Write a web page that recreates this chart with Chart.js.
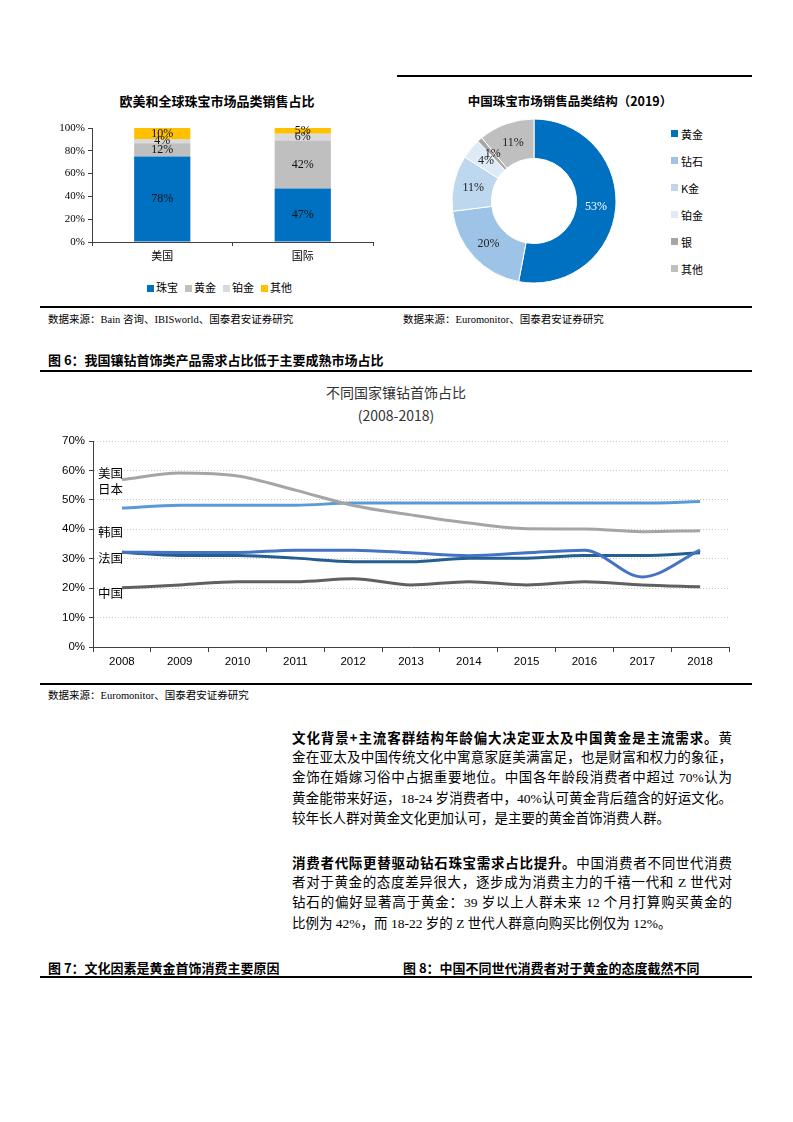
<!DOCTYPE html>
<html>
<head>
<meta charset="utf-8">
<script src="https://cdn.jsdelivr.net/npm/chart.js@4/dist/chart.umd.min.js"></script>
<style>
  body { margin: 0; background: #fff; }
  #page { position: relative; width: 793px; height: 1122px; font-family: "Noto Sans CJK SC", sans-serif; color: #000; }
  .abs { position: absolute; }
  .rule { position: absolute; background: #000; }
  .ctitle { position: absolute; font-weight: bold; font-size: 13px; text-align: center; white-space: nowrap; }
  .src { position: absolute; font-family: "Liberation Serif", "Noto Sans CJK SC", serif; font-size: 10.5px; white-space: nowrap; }
  .fig { position: absolute; font-weight: bold; font-size: 13px; white-space: nowrap; }
  .leg { position: absolute; font-size: 11px; display: flex; align-items: center; white-space: nowrap; }
  .leg i { display: inline-block; width: 7px; height: 7px; margin-right: 2px; }
  .ann { position: absolute; font-size: 12.5px; color: #000; white-space: nowrap; }
  .para { position: absolute; left: 292px; width: 440px; font-size: 13.5px; font-family: "Liberation Serif", "Noto Sans CJK SC", serif; }
  .para div { height: 20.6px; line-height: 20.6px; text-align: justify; text-align-last: justify; white-space: nowrap; }
  .para div.last { text-align-last: left; }
</style>
</head>
<body>
<div id="page">
  <div class="rule" style="left:397px; top:75px; width:355px; height:2px;"></div>

  <div class="ctitle" style="left:77px; top:91px; width:280px;">欧美和全球珠宝市场品类销售占比</div>
  <canvas id="barChart" class="abs" width="345" height="150" style="left:40px; top:118px;"></canvas>
  <div id="barLegend" class="leg" style="left:147px; top:279px;"></div>

  <div class="ctitle" style="left:440px; top:91px; width:260px; font-size:12.5px;">中国珠宝市场销售品类结构（2019）</div>
  <canvas id="pieChart" class="abs" width="190" height="190" style="left:439px; top:106px;"></canvas>
  <div id="pieLegend" class="abs" style="left:671px; top:120px;"></div>

  <div class="rule" style="left:40px; top:306px; width:712px; height:1.5px;"></div>
  <div class="src" style="left:48px; top:311px;">数据来源：Bain 咨询、IBISworld、国泰君安证券研究</div>
  <div class="src" style="left:403px; top:311px;">数据来源：Euromonitor、国泰君安证券研究</div>

  <div class="fig" style="left:48px; top:350px;">图 6：我国镶钻首饰类产品需求占比低于主要成熟市场占比</div>
  <div class="rule" style="left:40px; top:370px; width:712px; height:2px;"></div>

  <div class="abs" style="left:296px; top:381px; width:200px; text-align:center; font-size:14px; color:#333; line-height:23px;">不同国家镶钻首饰占比<br>(2008-2018)</div>
  <canvas id="lineChart" class="abs" width="700" height="245" style="left:40px; top:430px;"></canvas>
  <div class="ann" style="left:98px; top:463px;">美国</div>
  <div class="ann" style="left:98px; top:479px;">日本</div>
  <div class="ann" style="left:98px; top:522px;">韩国</div>
  <div class="ann" style="left:98px; top:548px;">法国</div>
  <div class="ann" style="left:98px; top:583px;">中国</div>

  <div class="rule" style="left:40px; top:683px; width:712px; height:2px;"></div>
  <div class="src" style="left:48px; top:687px;">数据来源：Euromonitor、国泰君安证券研究</div>

  <div class="para" style="top:727px;">
    <div><b style="font-family:'Noto Sans CJK SC';">文化背景+主流客群结构年龄偏大决定亚太及中国黄金是主流需求。</b>黄</div>
    <div>金在亚太及中国传统文化中寓意家庭美满富足，也是财富和权力的象征，</div>
    <div>金饰在婚嫁习俗中占据重要地位。中国各年龄段消费者中超过 70%认为</div>
    <div>黄金能带来好运，18-24 岁消费者中，40%认可黄金背后蕴含的好运文化。</div>
    <div class="last">较年长人群对黄金文化更加认可，是主要的黄金首饰消费人群。</div>
  </div>
  <div class="para" style="top:852px;">
    <div><b style="font-family:'Noto Sans CJK SC';">消费者代际更替驱动钻石珠宝需求占比提升。</b>中国消费者不同世代消费</div>
    <div>者对于黄金的态度差异很大，逐步成为消费主力的千禧一代和 Z 世代对</div>
    <div>钻石的偏好显著高于黄金：39 岁以上人群未来 12 个月打算购买黄金的</div>
    <div class="last">比例为 42%，而 18-22 岁的 Z 世代人群意向购买比例仅为 12%。</div>
  </div>

  <div class="fig" style="left:48px; top:958px;">图 7：文化因素是黄金首饰消费主要原因</div>
  <div class="fig" style="left:403px; top:958px;">图 8：中国不同世代消费者对于黄金的态度截然不同</div>
  <div class="rule" style="left:40px; top:976px; width:712px; height:2px;"></div>
</div>

<script>
// 欧美和全球珠宝市场品类销售占比
const barCategories = ["美国", "国际"];
const barSeriesNames = ["珠宝", "黄金", "铂金", "其他"];
const zhubao = [78, 47];
const huangjin = [12, 42];
const bojin = [4, 6];
const qita = [10, 5];
const barColors = ["#0070c0", "#bfbfbf", "#d9d9d9", "#ffc000"];
const barTicks = [0, 20, 40, 60, 80, 100];

// 中国珠宝市场销售品类结构（2019）
const pieLabels = ["黄金", "钻石", "K金", "铂金", "银", "其他"];
const pieValues = [53, 20, 11, 4, 1, 11];
const pieColors = ["#0070c0", "#9dc3e6", "#bdd7ee", "#deebf7", "#a6a6a6", "#bfbfbf"];

// 不同国家镶钻首饰占比 (2008-2018)
const years = ["2008", "2009", "2010", "2011", "2012", "2013", "2014", "2015", "2016", "2017", "2018"];
const japan = [56.9, 59.1, 58.1, 53.3, 48.1, 44.9, 42.1, 40.2, 40.1, 39.2, 39.5];
const usa = [47.2, 48.2, 48.2, 48.2, 48.9, 48.9, 48.9, 48.9, 48.9, 48.9, 49.4];
const korea = [32.2, 32.1, 32.1, 32.9, 32.9, 32.0, 31.0, 32.0, 32.9, 23.8, 32.9];
const france = [32.2, 31.1, 31.1, 30.2, 29.0, 29.0, 30.2, 30.2, 31.1, 31.1, 32.0];
const china = [20.1, 21.1, 22.2, 22.2, 23.2, 21.1, 22.2, 21.1, 22.2, 21.1, 20.5];
const lineTicks = [0, 10, 20, 30, 40, 50, 60, 70];

const serif = "'Liberation Serif', 'Noto Sans CJK SC', serif";
const sans = "'Liberation Sans', 'Noto Sans CJK SC', sans-serif";

// 100% 堆积：按类目合计换算
const barRaw = [zhubao, huangjin, bojin, qita];
const totals = barCategories.map((c, i) => barRaw.reduce((s, arr) => s + arr[i], 0));

const barLabelPlugin = {
	id: "barLabels",
	afterDatasetsDraw(chart) {
		const ctx = chart.ctx;
		ctx.save();
		ctx.font = "12px " + serif;
		ctx.fillStyle = "#111";
		ctx.textAlign = "center";
		ctx.textBaseline = "middle";
		chart.data.datasets.forEach((ds, di) => {
			chart.getDatasetMeta(di).data.forEach((el, i) => {
				ctx.fillText(ds.rawValues[i] + "%", el.x, (el.y + el.base) / 2);
			});
		});
		ctx.restore();
	}
};

new Chart(document.getElementById("barChart"), {
	type: "bar",
	data: {
		labels: barCategories,
		datasets: barSeriesNames.map((name, k) => ({
			label: name,
			data: barRaw[k].map((v, i) => v / totals[i] * 100),
			rawValues: barRaw[k],
			backgroundColor: barColors[k],
			barPercentage: 0.4,
			categoryPercentage: 1
		}))
	},
	options: {
		responsive: false,
		animation: false,
		layout: { padding: { top: 10, right: 12, left: 0, bottom: 0 } },
		plugins: { legend: { display: false }, tooltip: { enabled: false } },
		scales: {
			x: {
				stacked: true,
				afterFit: s => { s.height = 26; },
				grid: { drawOnChartArea: false, drawTicks: true, tickLength: 4, color: "#404040" },
				border: { color: "#404040" },
				ticks: { color: "#000", font: { size: 11, family: sans }, padding: 4 }
			},
			y: {
				stacked: true,
				min: 0,
				max: 100,
				afterFit: s => { s.width = 52; },
				afterBuildTicks: s => { s.ticks = barTicks.map(v => ({ value: v })); },
				grid: { drawOnChartArea: false, drawTicks: true, tickLength: 4, color: "#404040" },
				border: { color: "#404040" },
				ticks: { color: "#000", font: { size: 11, family: serif }, padding: 3, callback: v => v + "%" }
			}
		}
	},
	plugins: [barLabelPlugin]
});

const barLegend = document.getElementById("barLegend");
barSeriesNames.forEach((name, k) => {
	const span = document.createElement("span");
	span.style.marginRight = "7px";
	span.innerHTML = `<i style="background:${barColors[k]}"></i>${name}`;
	barLegend.appendChild(span);
});

const pieLabelPlugin = {
	id: "pieLabels",
	afterDatasetsDraw(chart) {
		const ctx = chart.ctx;
		ctx.save();
		ctx.font = "12px " + serif;
		ctx.textAlign = "center";
		ctx.textBaseline = "middle";
		chart.getDatasetMeta(0).data.forEach((el, i) => {
			const p = el.tooltipPosition();
			ctx.fillStyle = i === 0 ? "#fff" : "#222";
			ctx.fillText(pieValues[i] + "%", p.x, p.y);
		});
		ctx.restore();
	}
};

new Chart(document.getElementById("pieChart"), {
	type: "doughnut",
	data: {
		labels: pieLabels,
		datasets: [{
			data: pieValues,
			backgroundColor: pieColors,
			borderColor: "#fff",
			borderWidth: 1
		}]
	},
	options: {
		responsive: false,
		animation: false,
		radius: 82,
		cutout: 49,
		layout: { padding: 0 },
		plugins: { legend: { display: false }, tooltip: { enabled: false } }
	},
	plugins: [pieLabelPlugin]
});

const pieLegend = document.getElementById("pieLegend");
pieLabels.forEach((name, k) => {
	const row = document.createElement("div");
	row.className = "leg";
	row.style.position = "relative";
	row.style.height = "27px";
	row.innerHTML = `<i style="background:${pieColors[k]}; margin-right:3px"></i>${name}`;
	pieLegend.appendChild(row);
});

const lineSeries = [
	{ name: "日本", data: japan, color: "#a5a5a5" },
	{ name: "美国", data: usa, color: "#5b9bd5" },
	{ name: "韩国", data: korea, color: "#4472c4" },
	{ name: "法国", data: france, color: "#255e91" },
	{ name: "中国", data: china, color: "#606060" }
];

new Chart(document.getElementById("lineChart"), {
	type: "line",
	data: {
		labels: years,
		datasets: lineSeries.map(s => ({
			label: s.name,
			data: s.data,
			borderColor: s.color,
			borderWidth: 3,
			pointRadius: 0,
			cubicInterpolationMode: "monotone",
			fill: false
		}))
	},
	options: {
		responsive: false,
		animation: false,
		layout: { padding: { top: 11, right: 11, left: 0, bottom: 0 } },
		plugins: { legend: { display: false }, tooltip: { enabled: false } },
		scales: {
			x: {
				offset: true,
				afterFit: s => { s.height = 28; },
				grid: { offset: true, drawOnChartArea: false, drawTicks: true, tickLength: 5, color: "#404040" },
				border: { color: "#404040" },
				ticks: { color: "#000", font: { size: 11.5, family: sans }, padding: 3 }
			},
			y: {
				min: 0,
				max: 70,
				afterFit: s => { s.width = 53; },
				afterBuildTicks: s => { s.ticks = lineTicks.map(v => ({ value: v })); },
				grid: { color: "#c8c8c8", tickColor: "#404040", tickLength: 4, tickBorderDash: [] },
				border: { color: "#404040", dash: [1, 2] },
				ticks: { color: "#000", font: { size: 11.5, family: sans }, padding: 4, callback: v => v + "%" }
			}
		}
	}
});
</script>
</body>
</html>
